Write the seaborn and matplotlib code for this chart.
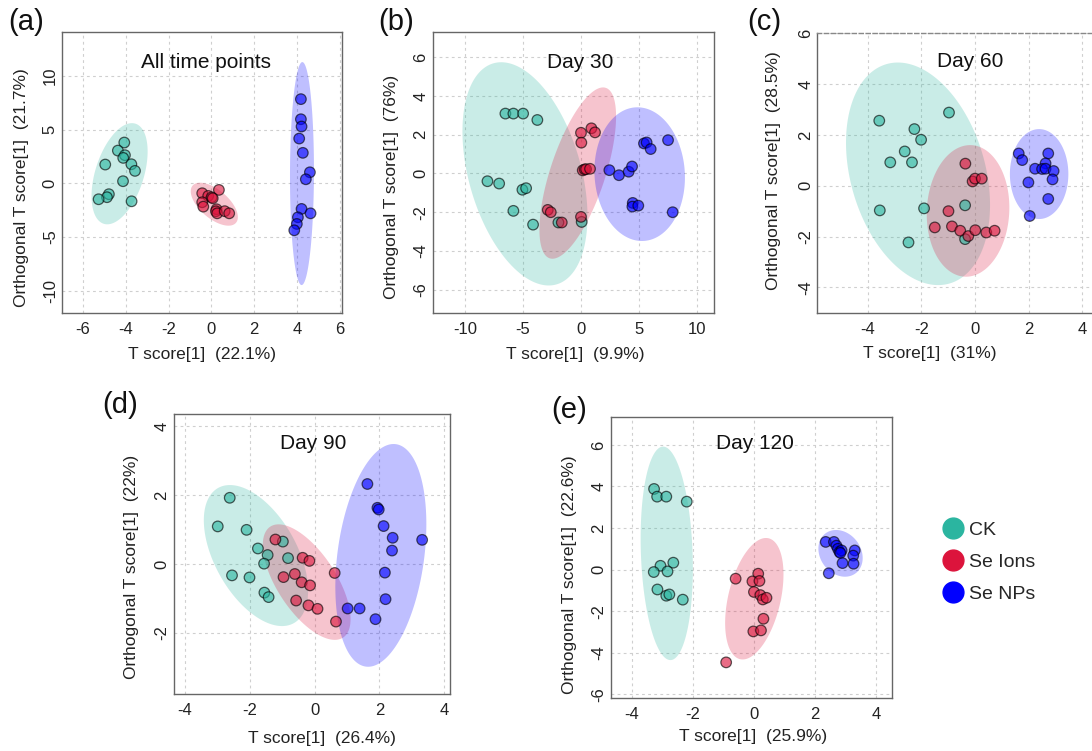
import numpy as np
import pandas as pd
import matplotlib
matplotlib.use("Agg")
import matplotlib.pyplot as plt
import seaborn as sns
from matplotlib.lines import Line2D

# ---------------- data ----------------
groups = ["CK", "Se Ions", "Se NPs"]
group_colors = ["#2BB5A0", "#DC143C", "#0000FF"]

# (a) All time points
a_ck_x = [-4.07, -4.37, -4.04, -4.12, -4.96, -3.74, -3.57, -4.13, -4.79, -4.88, -5.27, -3.73]
a_ck_y = [3.79, 3.04, 2.61, 2.36, 1.74, 1.77, 1.15, 0.19, -1.02, -1.30, -1.49, -1.68]
a_ion_x = [0.35, -0.43, -0.15, 0.01, 0.06, -0.43, -0.38, 0.24, 0.21, 0.27, 0.62, 0.83]
a_ion_y = [-0.62, -0.93, -1.18, -1.31, -1.40, -1.77, -2.18, -2.42, -2.61, -2.80, -2.60, -2.80]
a_np_x = [4.18, 4.18, 4.21, 4.10, 4.27, 4.60, 4.41, 4.21, 4.63, 4.04, 3.99, 3.87]
a_np_y = [7.83, 5.96, 5.28, 4.16, 2.83, 1.02, 0.37, -2.39, -2.80, -3.17, -3.79, -4.38]
# ellipse params per group (CK, Se Ions, Se NPs): centre, half-extents, correlation
a_ell_cx = [-4.29, 0.135, 4.23]
a_ell_cy = [0.885, -1.95, 0.90]
a_ell_sx = [1.31, 1.10, 0.56]
a_ell_sy = [4.71, 2.00, 10.38]
a_ell_rho = [0.44, -0.60, 0.03]

# (b) Day 30
b_ck_x = [-6.52, -5.83, -4.99, -3.76, -8.07, -7.06, -5.05, -4.73, -5.83, -4.13, -1.94, 0.07]
b_ck_y = [3.09, 3.09, 3.09, 2.76, -0.40, -0.52, -0.84, -0.76, -1.93, -2.64, -2.53, -2.50]
b_ion_x = [0.91, 1.22, 0.01, 0.04, 0.16, 0.33, 0.45, 0.79, -2.86, -2.60, -1.65, 0.01]
b_ion_y = [2.33, 2.12, 2.10, 1.59, 0.16, 0.21, 0.22, 0.24, -1.88, -2.00, -2.53, -2.24]
b_np_x = [2.46, 3.29, 4.13, 4.42, 5.45, 5.68, 6.03, 7.53, 4.48, 4.45, 4.96, 7.93]
b_np_y = [0.17, -0.09, 0.09, 0.36, 1.55, 1.60, 1.26, 1.72, -1.52, -1.71, -1.66, -2.00]
b_ell_cx = [-4.83, -0.27, 5.08]
b_ell_cy = [-0.02, 0.02, -0.035]
b_ell_sx = [5.40, 3.31, 3.91]
b_ell_sy = [5.76, 4.42, 3.45]
b_ell_rho = [-0.38, 0.66, -0.05]

# (c) Day 60
c_ck_x = [-3.57, -0.97, -2.26, -2.01, -2.62, -3.16, -2.35, -3.55, -1.90, -0.37, -2.48, -0.37]
c_ck_y = [2.56, 2.88, 2.23, 1.81, 1.35, 0.92, 0.92, -0.97, -0.89, -0.77, -2.23, -2.10]
c_ion_x = [-0.36, -0.09, 0.00, 0.25, -0.99, -1.50, -0.86, -0.55, -0.25, 0.01, 0.42, 0.73]
c_ion_y = [0.87, 0.17, 0.28, 0.28, -1.00, -1.64, -1.60, -1.77, -1.98, -1.75, -1.84, -1.77]
c_np_x = [1.63, 1.76, 2.73, 2.63, 2.24, 2.50, 2.63, 2.93, 2.89, 1.99, 2.73, 2.04]
c_np_y = [1.27, 1.01, 1.27, 0.88, 0.67, 0.66, 0.67, 0.58, 0.25, 0.13, -0.52, -1.19]
c_ell_cx = [-2.125, -0.26, 2.39]
c_ell_cy = [0.47, -0.99, 0.46]
c_ell_sx = [2.685, 1.54, 1.09]
c_ell_sy = [4.38, 2.59, 1.77]
c_ell_rho = [-0.28, 0.05, 0.0]

# (d) Day 90
d_ck_x = [-2.62, -2.99, -2.10, -1.75, -0.98, -1.45, -1.56, -0.82, -2.55, -2.01, -1.55, -1.42]
d_ck_y = [1.92, 1.09, 0.99, 0.45, 0.65, 0.26, 0.01, 0.17, -0.33, -0.39, -0.83, -0.96]
d_ion_x = [-1.21, -0.37, -0.16, 0.62, -0.96, -0.61, -0.40, -0.14, -0.57, -0.19, 0.09, 0.66]
d_ion_y = [0.71, 0.18, 0.09, -0.26, -0.38, -0.29, -0.53, -0.62, -1.06, -1.20, -1.30, -1.67]
d_np_x = [1.63, 1.94, 1.98, 2.13, 2.41, 2.39, 3.32, 2.17, 2.19, 1.02, 1.39, 1.88]
d_np_y = [2.32, 1.63, 1.58, 1.10, 0.76, 0.39, 0.70, -0.25, -1.02, -1.29, -1.29, -1.60]
d_ell_cx = [-1.81, -0.245, 2.045]
d_ell_cy = [0.245, -0.525, 0.25]
d_ell_sx = [1.61, 1.355, 1.405]
d_ell_sy = [2.045, 1.675, 3.23]
d_ell_rho = [-0.50, -0.64, 0.28]

# (e) Day 120
e_ck_x = [-3.27, -3.17, -2.87, -2.20, -2.64, -3.06, -3.28, -2.83, -3.16, -2.87, -2.77, -2.33]
e_ck_y = [3.88, 3.51, 3.51, 3.27, 0.33, 0.18, -0.12, -0.09, -0.96, -1.26, -1.20, -1.45]
e_ion_x = [-0.60, 0.14, -0.05, 0.18, 0.00, 0.21, 0.29, 0.41, 0.31, -0.02, 0.23, -0.91]
e_ion_y = [-0.44, -0.20, -0.57, -0.55, -1.08, -1.23, -1.44, -1.36, -2.37, -2.98, -2.93, -4.47]
e_np_x = [2.35, 2.62, 2.70, 2.75, 2.80, 2.87, 2.83, 3.30, 3.25, 3.26, 2.90, 2.45]
e_np_y = [1.33, 1.33, 1.15, 1.00, 0.85, 0.92, 0.80, 0.92, 0.67, 0.28, 0.31, -0.18]
e_ell_cx = [-2.855, 0.012, 2.835]
e_ell_cy = [0.78, -1.405, 0.78]
e_ell_sx = [0.855, 0.955, 0.725]
e_ell_sy = [5.14, 2.925, 1.125]
e_ell_rho = [-0.14, 0.40, -0.20]

titles = ["All time points", "Day 30", "Day 60", "Day 90", "Day 120"]
panel_tags = ["(a)", "(b)", "(c)", "(d)", "(e)"]
t_pct = ["22.1%", "9.9%", "31%", "26.4%", "25.9%"]
o_pct = ["21.7%", "76%", "28.5%", "22%", "22.6%"]
x_ticks_list = [[-6, -4, -2, 0, 2, 4, 6], [-10, -5, 0, 5, 10], [-4, -2, 0, 2, 4],
                [-4, -2, 0, 2, 4], [-4, -2, 0, 2, 4]]
y_ticks_list = [[-10, -5, 0, 5, 10], [-6, -4, -2, 0, 2, 4, 6], [-4, -2, 0, 2, 4, 6],
                [-2, 0, 2, 4], [-6, -4, -2, 0, 2, 4, 6]]

# ---------------- style ----------------
sns.set_style("white")
plt.rcParams["font.family"] = ["Liberation Sans", "DejaVu Sans"]
plt.rcParams["axes.unicode_minus"] = False

W, H = 1092, 751
fig = plt.figure(figsize=(W / 100, H / 100), dpi=100)


def px_rect(l, t, r, b):
    return [l / W, 1 - b / H, (r - l) / W, (b - t) / H]


layout = [
    dict(rect=px_rect(62, 32, 342, 313), xlim=(-6.98, 6.1), ylim=(-12.08, 14.08),
         title=(0.514, 0.891), ylab=(-0.144, 0.445), xlab=(0.5, -0.146), tag=(26, 22)),
    dict(rect=px_rect(432.7, 32, 714, 313), xlim=(-12.8, 11.5), ylim=(-7.2, 7.3),
         title=(0.526, 0.891), ylab=(-0.146, 0.447), xlab=(0.506, -0.146), tag=(396, 22)),
    dict(rect=px_rect(817.3, 33.3, 1098.4, 313.3), xlim=(-5.88, 4.6), ylim=(-5.02, 6.0),
         title=(0.543, 0.899), ylab=(-0.157, 0.509), xlab=(0.40, -0.145), tag=(764, 22)),
    dict(rect=px_rect(173.7, 414, 450, 694), xlim=(-4.35, 4.18), ylim=(-3.77, 4.35),
         title=(0.505, 0.895), ylab=(-0.152, 0.455), xlab=(0.536, -0.158), tag=(120, 405)),
    dict(rect=px_rect(610.7, 416.7, 891.7, 698.3), xlim=(-4.69, 4.51), ylim=(-6.2, 7.36),
         title=(0.514, 0.906), ylab=(-0.145, 0.438), xlab=(0.507, -0.136), tag=(569, 410)),
]

panels = [
    (a_ck_x, a_ck_y, a_ion_x, a_ion_y, a_np_x, a_np_y, a_ell_cx, a_ell_cy, a_ell_sx, a_ell_sy, a_ell_rho),
    (b_ck_x, b_ck_y, b_ion_x, b_ion_y, b_np_x, b_np_y, b_ell_cx, b_ell_cy, b_ell_sx, b_ell_sy, b_ell_rho),
    (c_ck_x, c_ck_y, c_ion_x, c_ion_y, c_np_x, c_np_y, c_ell_cx, c_ell_cy, c_ell_sx, c_ell_sy, c_ell_rho),
    (d_ck_x, d_ck_y, d_ion_x, d_ion_y, d_np_x, d_np_y, d_ell_cx, d_ell_cy, d_ell_sx, d_ell_sy, d_ell_rho),
    (e_ck_x, e_ck_y, e_ion_x, e_ion_y, e_np_x, e_np_y, e_ell_cx, e_ell_cy, e_ell_sx, e_ell_sy, e_ell_rho),
]

tt = np.linspace(0, 2 * np.pi, 240)

for i, (pd_, lay) in enumerate(zip(panels, layout)):
    ck_x, ck_y, ion_x, ion_y, np_x, np_y, ecx, ecy, esx, esy, erho = pd_
    ax = fig.add_axes(lay["rect"])
    ax.set_xlim(*lay["xlim"])
    ax.set_ylim(*lay["ylim"])
    ax.set_xticks(x_ticks_list[i])
    ax.set_yticks(y_ticks_list[i])
    ax.grid(True, color="#cfcfcf", linestyle=(0, (2.5, 3)), linewidth=0.8, zorder=0)
    ax.set_axisbelow(True)

    # confidence ellipses
    for g in range(3):
        r = erho[g]
        ex = ecx[g] + esx[g] * np.cos(tt)
        ey = ecy[g] + esy[g] * (r * np.cos(tt) + np.sqrt(1 - r * r) * np.sin(tt))
        ax.fill(ex, ey, color=group_colors[g], alpha=0.25, lw=0, zorder=1)

    df = pd.DataFrame({
        "x": list(ck_x) + list(ion_x) + list(np_x),
        "y": list(ck_y) + list(ion_y) + list(np_y),
        "group": ["CK"] * len(ck_x) + ["Se Ions"] * len(ion_x) + ["Se NPs"] * len(np_x),
    })
    sns.scatterplot(data=df, x="x", y="y", hue="group", hue_order=groups,
                    palette=group_colors, s=58, alpha=0.62, edgecolor="black",
                    linewidth=0.9, legend=False, ax=ax, zorder=3)

    for sp in ax.spines.values():
        sp.set_color("#666666")
        sp.set_linewidth(1.0)
    if i == 2:
        ax.spines["top"].set_linestyle((0, (3, 2)))
        ax.spines["top"].set_color("#888888")

    ax.tick_params(axis="both", length=0, labelsize=12, colors="#222222")
    ax.tick_params(axis="x", pad=6.5)
    ax.tick_params(axis="y", pad=3, labelrotation=90)
    for lbl in ax.get_yticklabels():
        lbl.set_va("center")

    ax.set_xlabel(f"T score[1]  ({t_pct[i]})", fontsize=12.5, color="#222222", va="center")
    ax.set_ylabel(f"Orthogonal T score[1]  ({o_pct[i]})", fontsize=12.5, color="#222222", va="center")
    ax.xaxis.set_label_coords(*lay["xlab"])
    ax.yaxis.set_label_coords(*lay["ylab"])

    ax.text(lay["title"][0], lay["title"][1], titles[i], transform=ax.transAxes,
            ha="center", va="center", fontsize=15, color="#111111")
    fig.text(lay["tag"][0] / W, 1 - lay["tag"][1] / H, panel_tags[i],
             ha="center", va="center", fontsize=21, color="#111111")

handles = [Line2D([0], [0], marker="o", linestyle="none", markersize=15,
                  markerfacecolor=c, markeredgecolor=c) for c in group_colors]
fig.legend(handles, groups, loc="upper left", bbox_to_anchor=(943 / W, 1 - 521 / H),
           frameon=False, fontsize=14, handlelength=1.0, handletextpad=0.35,
           labelspacing=0.75, borderpad=0, borderaxespad=0)

fig.savefig("out.png", dpi=100)
